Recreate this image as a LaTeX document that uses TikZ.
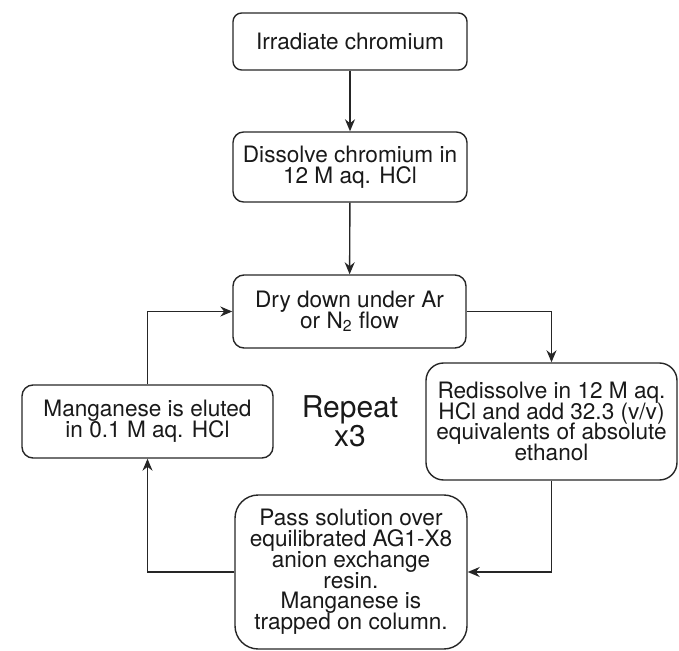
\documentclass[tikz,border=0pt]{standalone}
\usepackage{fontspec}
\setmainfont{TeX Gyre Heros}
\usepackage{tikz}
\usetikzlibrary{arrows.meta}
\newcommand{\boxfont}{\fontsize{11.3}{10.4}\selectfont\lineskiplimit=-10pt\relax}

\begin{document}
\begin{tikzpicture}[x=0.5pt,y=-0.5pt,
  >={Stealth[length=6pt,width=5pt]},
  procbox/.style={draw=black!85, line width=0.7pt, align=center, inner sep=0pt,
    text=black!90, font=\boxfont},
  flow/.style={->, draw=black!85, line width=0.7pt}]
  \useasboundingbox (0,0) rectangle (679,651);
  % Các bước
  \node[procbox, minimum width=117pt, minimum height=28.5pt, rounded corners=4.3pt] (irr) at (350,41.5) {Irradiate chromium};
  \node[procbox, minimum width=117pt, minimum height=35pt, rounded corners=5.3pt] (dis) at (350,167) {Dissolve chromium in\\12 M aq. HCl};
  \node[procbox, minimum width=116.5pt, minimum height=36.5pt, rounded corners=5.5pt] (dry) at (349.5,311.5) {Dry down under Ar\\or N\textsubscript{2} flow};
  \node[procbox, minimum width=125.5pt, minimum height=58.5pt, rounded corners=8.8pt] (red) at (551.5,421.5) {Redissolve in 12 M aq.\\HCl and add 32.3 (v/v)\\equivalents of absolute\\ethanol};
  \node[procbox, minimum width=116pt, minimum height=77pt, rounded corners=11.6pt] (pass) at (351,572) {Pass solution over\\equilibrated AG1-X8\\anion exchange\\resin.\\Manganese is\\trapped on column.};
  \node[procbox, minimum width=125.5pt, minimum height=36.5pt, rounded corners=5.5pt] (elu) at (147.5,421.5) {Manganese is eluted\\in 0.1 M aq. HCl};
  \node[align=center, text=black!90, font=\fontsize{15}{14.5}\selectfont] (rep) at (350,421) {Repeat\\x3};
  % Mũi tên
  \foreach \a/\b in {irr/dis,dis/dry}
  \draw[flow] (\a) -- (\b);
  \draw[flow] (dry.east) -| (red.north);
  \draw[flow] (red.south) |- (pass.east);
  \draw[flow] (pass.west) -| (elu.south);
  \draw[flow] (elu.north) |- (dry.west);
\end{tikzpicture}
\end{document}
